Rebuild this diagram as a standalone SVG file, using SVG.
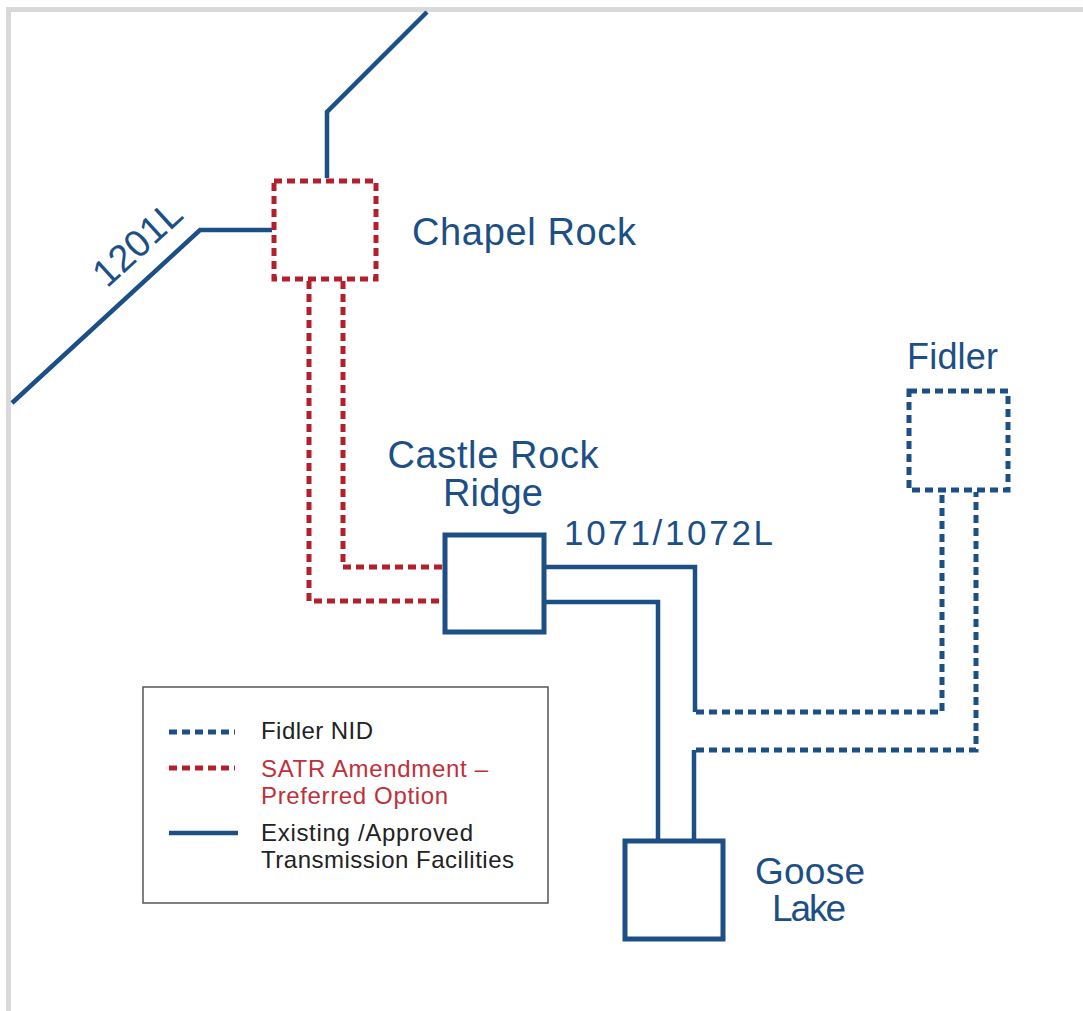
<svg xmlns="http://www.w3.org/2000/svg" width="1083" height="1011" viewBox="0 0 1083 1011">
<defs>
<style>
.solid{fill:none;stroke:#1c4f86;stroke-width:4.5;stroke-linejoin:miter}
.bdash{fill:none;stroke:#1c4f86;stroke-width:5;stroke-dasharray:8 5}
.rdash{fill:none;stroke:#b3202c;stroke-width:5;stroke-dasharray:8 5}
.box{fill:#fff;stroke:#1c4f86;stroke-width:5}
.lbl{font-family:"Liberation Sans",Arial,sans-serif;fill:#1c4f86}
.leg{font-family:"Liberation Sans",Arial,sans-serif;font-size:24px;fill:#222}
.legr{font-family:"Liberation Sans",Arial,sans-serif;font-size:24px;fill:#c0303a}
</style>
</defs>
<rect width="1083" height="1011" fill="#fff"/>
<rect x="6" y="7" width="1077" height="5" fill="#d9d9d9"/>
<rect x="6" y="7" width="5" height="1004" fill="#d9d9d9"/>

<g id="connectors">
<polyline class="solid" points="327,178 327,112 427,12"/>
<polyline class="solid" points="12,403 200,230 272,230"/>
<polyline class="rdash" points="343,281 343,567 443,567"/>
<polyline class="rdash" points="309,281 309,601 443,601"/>
<polyline class="solid" points="545,567 695,567 695,712"/>
<polyline class="solid" points="545,602 658,602 658,839"/>
<polyline class="solid" points="694,750 694,839"/>
<polyline class="bdash" points="696,712 942,712 942,492"/>
<polyline class="bdash" points="696,750 976,750 976,492"/>
</g>

<g id="chapel-rock">
<rect x="274" y="181" width="102" height="98" fill="#fff" stroke="#b3202c" stroke-width="5" stroke-dasharray="8 5"/>
<text class="lbl" x="412" y="245" font-size="38" textLength="224">Chapel Rock</text>
</g>

<g id="line-1201L">
<text class="lbl" font-size="38" text-anchor="middle" transform="translate(146,253) rotate(-42.5)">1201L</text>
</g>

<g id="castle-rock-ridge">
<rect x="445" y="535" width="99" height="97" class="box"/>
<text class="lbl" x="493" y="468" font-size="38" text-anchor="middle" textLength="211">Castle Rock</text>
<text class="lbl" x="493" y="506" font-size="38" text-anchor="middle" textLength="100">Ridge</text>
</g>

<g id="line-1071">
<text class="lbl" x="564" y="545" font-size="35" textLength="209">1071/1072L</text>
</g>

<g id="fidler">
<rect x="909" y="391" width="99" height="99" fill="#fff" stroke="#1c4f86" stroke-width="5" stroke-dasharray="8 5"/>
<text class="lbl" x="907" y="369" font-size="36" textLength="91">Fidler</text>
</g>

<g id="goose-lake">
<rect x="625" y="841" width="98" height="98" class="box"/>
<text class="lbl" x="810" y="884" font-size="37" text-anchor="middle" textLength="110">Goose</text>
<text class="lbl" x="809" y="921" font-size="37" text-anchor="middle" textLength="74">Lake</text>
</g>

<g id="legend">
<rect x="143" y="687" width="405" height="216" fill="#fff" stroke="#555" stroke-width="1.5"/>
<line x1="169" y1="732" x2="235" y2="732" class="bdash"/>
<text class="leg" x="261" y="739" textLength="112">Fidler NID</text>
<line x1="169" y1="768" x2="235" y2="768" class="rdash"/>
<text class="legr" x="261" y="777" textLength="227">SATR Amendment –</text>
<text class="legr" x="261" y="804" textLength="187">Preferred Option</text>
<line x1="169" y1="833" x2="238" y2="833" class="solid"/>
<text class="leg" x="261" y="841" textLength="212">Existing /Approved</text>
<text class="leg" x="261" y="868" textLength="253">Transmission Facilities</text>
</g>
</svg>
